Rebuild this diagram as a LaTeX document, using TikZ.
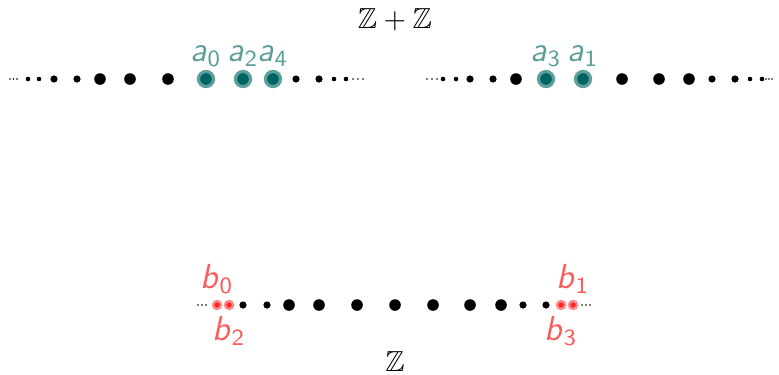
\documentclass[tikz,border=0pt]{standalone}
\usepackage{amsmath,amssymb}
\usepackage{xcolor}
\usetikzlibrary{positioning}
\definecolor{tealdk}{HTML}{006464}
\definecolor{teallt}{HTML}{5E9E9B}
\definecolor{redpt}{HTML}{FF2424}
\definecolor{redlt}{HTML}{FF5A5A}
\newcommand{\ptlab}[2]{\textsf{\textsl{#1}}$_{\mathsf{#2}}$}

\tikzset{
  apt/.style={circle,fill=tealdk,draw=teallt,line width=1.1pt,minimum size=5.2pt,inner sep=0pt},
  bpt/.style={circle,fill=redpt,draw=redlt!70,line width=0.8pt,minimum size=2.8pt,inner sep=0pt},
  alab/.style={text=teallt,inner sep=0pt,font=\large},
  blab/.style={text=redlt,inner sep=0pt,font=\large},
}

\begin{document}
\begin{tikzpicture}[x=0.345pt,y=-0.345pt]
\useasboundingbox (0,0) rectangle (779,374);

% Z + Z : two copies of the line
\node (zz) at (395,20) {$\mathbb{Z}+\mathbb{Z}$};
\foreach \x in {10,13.5,17, 353,358,363, 427,432,437, 766,769,772}
  \fill (\x,79) circle (0.8);
\foreach \x in {28,39, 334,346, 443,456, 750,762}
  \fill (\x,79) circle (2.3);
\foreach \x in {54,77, 296,319, 470,493, 712,735}
  \fill (\x,79) circle (3.6);
\foreach \x in {100,130,168, 516,622,659,689}
  \fill (\x,79) circle (5.8);

\node[apt] (a0) at (206,79) {};
\node[apt] (a2) at (243,79) {};
\node[apt] (a4) at (273,79) {};
\node[apt] (a3) at (546,79) {};
\node[apt] (a1) at (583,79) {};
\foreach \n in {0,1,2,3,4}
  \node[alab,above=1pt of a\n] {\ptlab{a}{\n}};

% Z : the single line
\node (z) at (395,362) {$\mathbb{Z}$};
\foreach \x in {198,202,206, 582,586,590}
  \fill (\x,305) circle (0.8);
\foreach \x in {243,267, 523,546}
  \fill (\x,305) circle (3.6);
\foreach \x in {289,319,357,395,433,470,501}
  \fill (\x,305) circle (5.8);

\node[bpt] (b0) at (217,305) {};
\node[bpt] (b2) at (229,305) {};
\node[bpt] (b3) at (561,305) {};
\node[bpt] (b1) at (573,305) {};
\node[blab,above=2pt of b0] {\ptlab{b}{0}};
\node[blab,above=2pt of b1] {\ptlab{b}{1}};
\node[blab,below=2pt of b2] {\ptlab{b}{2}};
\node[blab,below=2pt of b3] {\ptlab{b}{3}};
\end{tikzpicture}
\end{document}
